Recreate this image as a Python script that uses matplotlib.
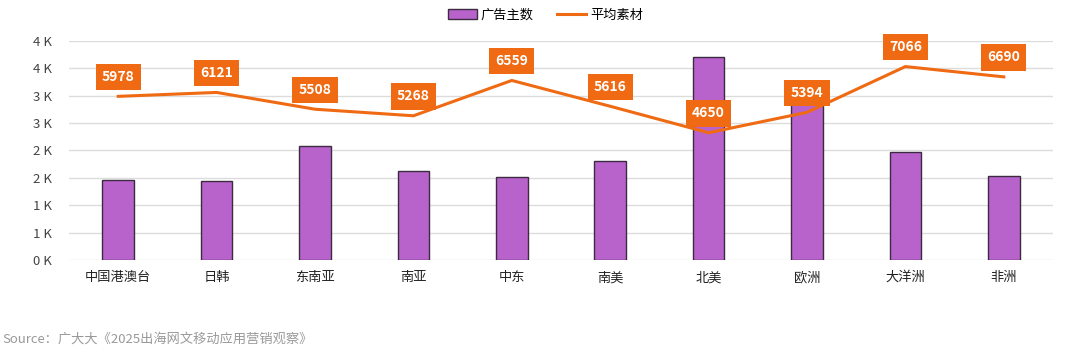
import matplotlib
matplotlib.use("Agg")
import matplotlib.pyplot as plt
import numpy as np

plt.rcParams['font.family'] = ['Noto Sans CJK SC', 'DejaVu Sans']

# data
regions = ['中国港澳台', '日韩', '东南亚', '南亚', '中东', '南美', '北美', '欧洲', '大洋洲', '非洲']
advertisers = [1455, 1442, 2085, 1630, 1515, 1806, 3709, 3000, 1964, 1527]
avg_creatives = [5978, 6121, 5508, 5268, 6559, 5616, 4650, 5394, 7066, 6690]
y_ticks = [0, 500, 1000, 1500, 2000, 2500, 3000, 3500, 4000]
y_tick_labels = ['0 K', '1 K', '1 K', '2 K', '2 K', '3 K', '3 K', '4 K', '4 K']
source = 'Source：广大大《2025出海网文移动应用营销观察》'

bar_color = '#B862CB'
line_color = '#EF6A12'

fig = plt.figure(figsize=(10.8, 3.52), dpi=100)
ax = fig.add_axes([0.0639, 0.2614, 0.9111, 0.6221])
x = np.arange(len(regions))

ax.bar(x, advertisers, width=0.32, color=bar_color, edgecolor='#3B2A40',
       linewidth=1.0, label='广告主数', zorder=2)
ax.set_xlim(-0.5, len(regions) - 0.5)
ax.set_ylim(0, 4000)
ax.set_yticks(y_ticks)
ax.set_yticklabels(y_tick_labels)
ax.set_xticks(x)
ax.set_xticklabels(regions)
ax.grid(axis='y', color='#DCDCDC', linewidth=1.0, zorder=0)
ax.set_axisbelow(True)
for s in ax.spines.values():
    s.set_visible(False)
ax.tick_params(axis='y', length=0, pad=12, labelsize=9.5, labelcolor='#444444')
ax.tick_params(axis='x', length=0, pad=8, labelsize=9.5, labelcolor='#222222')

# average creatives on a hidden secondary axis
ax2 = ax.twinx()
ax2.set_ylim(0, 8000)
ax2.plot(x, avg_creatives, color=line_color, linewidth=2.2, label='平均素材', zorder=3)
ax2.set_yticks([])
for s in ax2.spines.values():
    s.set_visible(False)

for xi, v in zip(x, avg_creatives):
    ax2.annotate(str(v), (xi, v), xytext=(0, 14), textcoords='offset points',
                 ha='center', va='center', fontsize=10, fontweight='bold',
                 color='white', zorder=5,
                 bbox=dict(boxstyle='square,pad=0.45', fc=line_color, ec='none'))

h1, l1 = ax.get_legend_handles_labels()
h2, l2 = ax2.get_legend_handles_labels()
fig.legend(h1 + h2, l1 + l2, loc='center', bbox_to_anchor=(0.505, 0.957), ncol=2,
           frameon=False, fontsize=9.5, handlelength=2.2, handleheight=0.7,
           columnspacing=1.8, handletextpad=0.3)

fig.text(0.002, 0.035, source, fontsize=9.5, color='#999999', ha='left', va='center')

fig.savefig('out.png', dpi=100, facecolor='white')
